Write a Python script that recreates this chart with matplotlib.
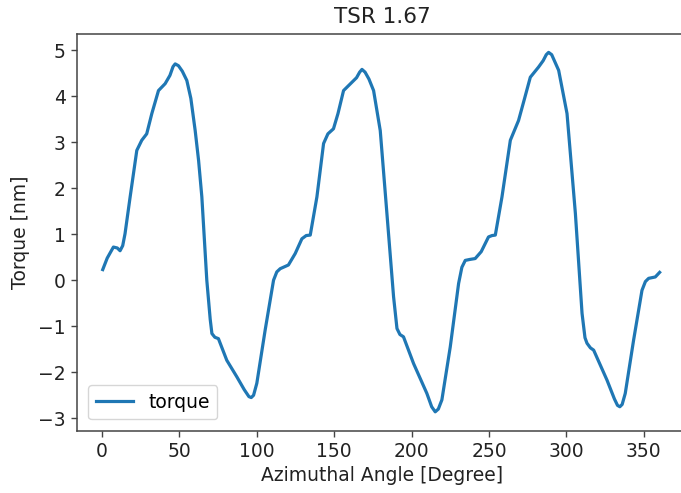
import matplotlib
matplotlib.use("Agg")
import matplotlib.pyplot as plt

angle = [0.6, 3.5, 7.5, 10.0, 11.8, 13.5, 15.0, 18.3, 22.6, 25.8, 29.0, 32.3, 36.6,
         40.9, 44.0, 46.0, 47.4, 49.5, 52.0, 54.9, 57.5, 60.3, 62.5, 64.6, 67.8, 70.0,
         71.1, 73.0, 75.3, 80.7, 87.2, 92.0, 95.0, 96.5, 98.0, 100.1, 105.5, 110.9,
         113.0, 115.2, 120.5, 124.9, 129.2, 132.0, 134.6, 138.9, 143.2, 146.0, 149.6,
         152.5, 156.1, 161.5, 164.5, 166.5, 168.0, 170.0, 172.5, 175.5, 179.8, 184.1,
         188.4, 190.6, 192.5, 194.8, 201.3, 209.9, 213.0, 215.3, 217.3, 219.6, 225.0,
         230.4, 232.5, 234.7, 237.5, 241.1, 245.0, 249.7, 252.0, 254.1, 258.4, 263.8,
         269.1, 273.0, 276.7, 282.0, 285.0, 287.0, 288.5, 290.5, 295.0, 300.4, 305.8,
         310.1, 312.0, 313.3, 315.5, 317.6, 326.2, 331.0, 333.0, 334.5, 336.0, 338.0,
         343.4, 348.8, 351.0, 353.1, 357.4, 360.2]
torque = [0.23, 0.48, 0.72, 0.70, 0.64, 0.75, 1.01, 1.81, 2.82, 3.04, 3.18, 3.62, 4.12,
          4.27, 4.45, 4.64, 4.70, 4.66, 4.54, 4.34, 3.95, 3.25, 2.60, 1.81, 0.00, -0.85,
          -1.16, -1.24, -1.27, -1.74, -2.10, -2.38, -2.53, -2.55, -2.50, -2.24, -1.08, 0.00,
          0.18, 0.25, 0.33, 0.58, 0.90, 0.97, 0.98, 1.81, 2.97, 3.18, 3.29, 3.62, 4.12,
          4.30, 4.40, 4.52, 4.58, 4.52, 4.37, 4.12, 3.25, 1.45, -0.36, -1.05, -1.18, -1.23,
          -1.81, -2.46, -2.75, -2.86, -2.80, -2.60, -1.45, -0.07, 0.28, 0.43, 0.45, 0.47,
          0.62, 0.94, 0.97, 0.98, 1.81, 3.04, 3.47, 3.95, 4.41, 4.63, 4.77, 4.90, 4.95,
          4.90, 4.56, 3.62, 1.45, -0.72, -1.25, -1.37, -1.47, -1.52, -2.17, -2.58, -2.72,
          -2.75, -2.70, -2.46, -1.30, -0.22, -0.03, 0.04, 0.07, 0.17]

fs = 13.5
fig = plt.figure(figsize=(6.81, 4.93), dpi=100)
ax = fig.add_axes([0.1131, 0.1264, 0.896, 0.8047])
ax.plot(angle, torque, color="#1f77b4", linewidth=2.3, label="torque")
ax.set_xlim(-16, 378)
ax.set_ylim(-3.27, 5.35)
ax.set_xticks([0, 50, 100, 150, 200, 250, 300, 350])
ax.set_yticks([-3, -2, -1, 0, 1, 2, 3, 4, 5])
ax.tick_params(labelsize=fs, length=4.5, width=1.0, color="#444444", labelcolor="#222222")
for s in ax.spines.values():
    s.set_linewidth(1.1)
    s.set_color("#444444")
ax.set_title("TSR 1.67", fontsize=15.5, color="#222222", pad=8)
ax.set_xlabel("Azimuthal Angle [Degree]", fontsize=fs, color="#222222", labelpad=4)
ax.set_ylabel("Torque [nm]", fontsize=fs, color="#222222", labelpad=6)
ax.legend(loc="lower left", fontsize=fs, handlelength=2.0, borderaxespad=0.6)
fig.savefig("out.png", dpi=100)
